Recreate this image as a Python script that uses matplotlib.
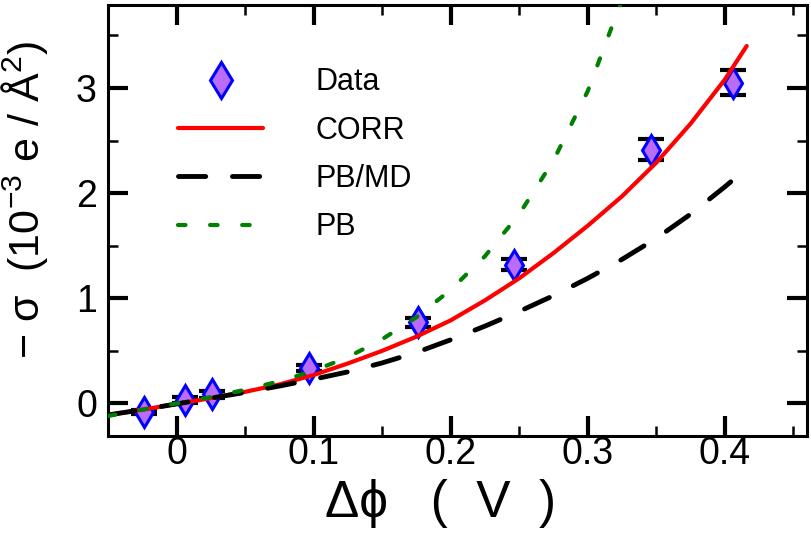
import matplotlib
matplotlib.use("Agg")
import matplotlib.pyplot as plt
from matplotlib.lines import Line2D
from matplotlib.ticker import MultipleLocator

# ---------------- data ----------------
data_x = [-0.024, 0.006, 0.026, 0.097, 0.176, 0.246, 0.3465, 0.406]
data_y = [-0.08, 0.03, 0.086, 0.34, 0.77, 1.32, 2.415, 3.05]
data_err = [0.02, 0.03, 0.03, 0.03, 0.04, 0.05, 0.10, 0.12]

corr_x = [-0.05, -0.025, 0.0, 0.025, 0.05, 0.075, 0.1, 0.125, 0.15, 0.175,
          0.2, 0.225, 0.25, 0.275, 0.3, 0.325, 0.35, 0.375, 0.4, 0.416]
corr_y = [-0.11, -0.06, -0.005, 0.05, 0.11, 0.18, 0.27, 0.38, 0.50, 0.635,
          0.79, 0.98, 1.19, 1.43, 1.69, 1.97, 2.29, 2.66, 3.08, 3.40]

pbmd_x = [-0.05, -0.025, 0.0, 0.025, 0.05, 0.075, 0.1, 0.125, 0.15, 0.175,
          0.2, 0.225, 0.25, 0.275, 0.3, 0.325, 0.35, 0.375, 0.4, 0.41]
pbmd_y = [-0.11, -0.06, -0.005, 0.05, 0.105, 0.165, 0.23, 0.30, 0.385, 0.485,
          0.605, 0.735, 0.875, 1.025, 1.19, 1.37, 1.57, 1.80, 2.06, 2.17]

pb_x = [-0.05, -0.025, 0.0, 0.025, 0.05, 0.075, 0.1, 0.125, 0.15, 0.175,
        0.2, 0.225, 0.25, 0.275, 0.3, 0.325, 0.33]
pb_y = [-0.12, -0.06, 0.0, 0.06, 0.13, 0.21, 0.31, 0.44, 0.61, 0.82,
        1.08, 1.40, 1.80, 2.31, 2.97, 3.84, 4.05]

labels = ["Data", "CORR", "PB/MD", "PB"]
xticks = [0, 0.1, 0.2, 0.3, 0.4]
xticklabels = ["0", "0.1", "0.2", "0.3", "0.4"]
yticks = [0, 1, 2, 3]
yticklabels = ["0", "1", "2", "3"]

# ---------------- fonts ----------------
plt.rcParams['font.family'] = ['Liberation Sans', 'DejaVu Sans']
plt.rcParams['mathtext.fontset'] = 'custom'
plt.rcParams['mathtext.rm'] = 'Liberation Sans'
plt.rcParams['mathtext.it'] = 'Liberation Sans'
plt.rcParams['mathtext.default'] = 'regular'

fig = plt.figure(figsize=(8.11, 5.39), dpi=100)
ax = fig.add_axes([108/811, 1-436/539, (807-108)/811, (436-5)/539])

FACE = '#b86cf7'
EDGE = '#0000ff'

# data with error bars
ax.errorbar(data_x, data_y, yerr=data_err, fmt='none', ecolor='black',
            elinewidth=2.0, capsize=9.5, capthick=3.0, zorder=2)
ax.plot(data_x, data_y, linestyle='none', marker='d', markersize=15,
        markerfacecolor=FACE, markeredgecolor=EDGE,
        markeredgewidth=2.2, zorder=3)

# curves
ax.plot(corr_x, corr_y, color='#ff0000', lw=3.0, solid_capstyle='round', zorder=4)
ax.plot(pbmd_x, pbmd_y, color='black', lw=3.5, dashes=(5.6, 5.5),
        dash_capstyle='round', zorder=4)
ax.plot(pb_x, pb_y, color='#008000', lw=3.0, dashes=(1.8, 5.9),
        dash_capstyle='round', zorder=4)

ax.set_xlim(-0.05, 0.46)
ax.set_ylim(-0.31, 3.79)

ax.set_xticks(xticks)
ax.set_xticklabels(xticklabels, fontsize=27)
ax.set_yticks(yticks)
ax.set_yticklabels(yticklabels, fontsize=27)
ax.xaxis.set_minor_locator(MultipleLocator(0.05))
ax.yaxis.set_minor_locator(MultipleLocator(0.5))
ax.tick_params(which='both', direction='in', top=True, right=True)
ax.tick_params(which='major', length=14.5, width=3.0)
ax.tick_params(which='minor', length=7.5, width=1.8)
ax.tick_params(axis='x', which='major', pad=0)
ax.tick_params(axis='y', which='major', pad=8)
for s in ax.spines.values():
    s.set_linewidth(2.2)

ax.set_xlabel('\u0394\u03d5   (  V  )', fontsize=37)
ax.xaxis.set_label_coords(0.475, -0.10)
ax.set_ylabel('\u2212 \u03c3  (10$^{-3}$ e / \u00c5$^{2}$)', fontsize=31)
ax.yaxis.set_label_coords(-0.083, 0.548)

# legend
h_data = Line2D([], [], linestyle='none', marker='d', markersize=18,
                markerfacecolor=FACE, markeredgecolor=EDGE, markeredgewidth=2.2)
h_corr = Line2D([], [], color='#ff0000', lw=3.0, solid_capstyle='round')
h_pbmd = Line2D([], [], color='black', lw=3.5, dashes=(5.6, 5.5), dash_capstyle='round')
h_pb = Line2D([], [], color='#008000', lw=3.0, dashes=(1.8, 5.9), dash_capstyle='round')
ax.legend([h_data, h_corr, h_pbmd, h_pb], labels, loc='upper left',
          bbox_to_anchor=(0.100, 0.855), frameon=False, fontsize=22,
          handlelength=2.8, handletextpad=1.7, labelspacing=0.6,
          borderpad=0, borderaxespad=0)

fig.savefig('out.png', dpi=100)
